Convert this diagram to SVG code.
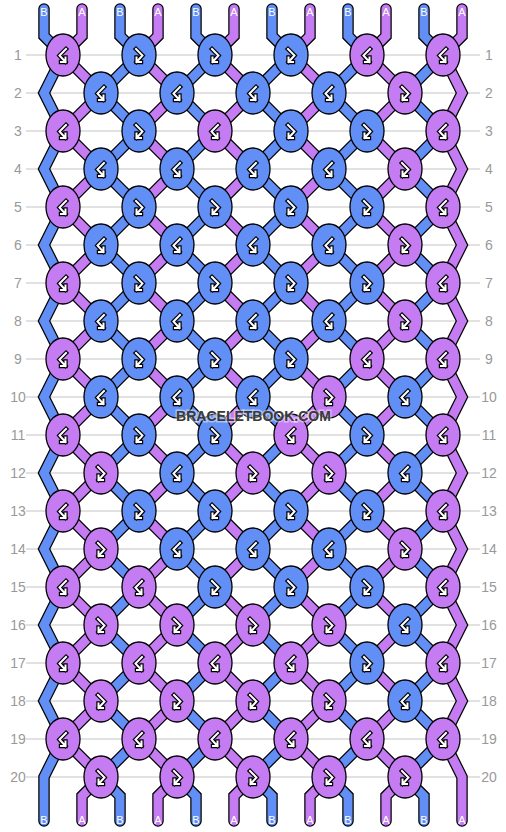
<svg xmlns="http://www.w3.org/2000/svg" xmlns:xlink="http://www.w3.org/1999/xlink" width="506" height="832" viewBox="0 0 506 832">
<style>
.grid line{stroke:#c4c4c4;stroke-width:1}
.num{font-family:"Liberation Sans",Arial,sans-serif;font-size:14px;fill:#999;text-anchor:middle}
.lab{font-family:"Liberation Sans",Arial,sans-serif;font-size:11px;fill:#fff;text-anchor:middle}
.so{fill:none;stroke:#000;stroke-width:11.5;stroke-linecap:round;stroke-linejoin:miter}
.sA{fill:none;stroke:#C57CF3;stroke-width:9;stroke-linecap:round;stroke-linejoin:miter}
.sB{fill:none;stroke:#628FF5;stroke-width:9;stroke-linecap:round;stroke-linejoin:miter}
.k ellipse{stroke:#000;stroke-width:1.3}
.p ellipse{fill:#C57CF3}
.b ellipse{fill:#628FF5}
.go{fill:none;stroke:#000;stroke-width:4.4;stroke-linejoin:miter;stroke-linecap:square}
.gi{fill:none;stroke:#fff;stroke-width:2;stroke-linejoin:miter;stroke-linecap:square}
.wm{font-family:"Liberation Sans",Arial,sans-serif;font-size:14px;font-weight:bold;fill:#3a3a3a;text-anchor:middle;stroke:#fff;stroke-opacity:0.45;stroke-width:3;paint-order:stroke}
</style>
<defs>
<path id="sa" d="M0,9V36l-19,19l38,38l-38,38l38,38l-38,38l38,38l-38,38l38,38l-38,38l38,38l-38,38l38,38l-38,38l38,38l-38,38l38,38l-38,38l38,38l-38,38l38,38l-19,19V821"/>
<path id="sb" d="M0,9V36l19,19l-38,38l38,38l-38,38l38,38l-38,38l38,38l-38,38l38,38l-38,38l38,38l-38,38l38,38l-38,38l38,38l-38,38l38,38l-38,38l38,38l-38,38l19,19V821"/>
<path id="s0" d="M44,9V36l19,19l-19,38l19,38l-19,38l19,38l-19,38l19,38l-19,38l19,38l-19,38l19,38l-19,38l19,38l-19,38l19,38l-19,38l19,38l-19,38l19,38l-19,38V821"/>
<path id="s11" d="M462,9V36l-19,19l19,38l-19,38l19,38l-19,38l19,38l-19,38l19,38l-19,38l19,38l-19,38l19,38l-19,38l19,38l-19,38l19,38l-19,38l19,38l-19,38l19,38V821"/>
<g id="L"><path class="go" d="M3,-6L-3.5,0.5L2.5,7M-2,7H2.5V2.5"/><path class="gi" d="M3,-6L-3.5,0.5L2.5,7M-2,7H2.5V2.5"/></g>
<g id="R"><path class="go" d="M-3,-6L3.5,0.5L-2.5,7M2,7H-2.5V2.5"/><path class="gi" d="M-3,-6L3.5,0.5L-2.5,7M2,7H-2.5V2.5"/></g>
</defs>
<rect width="506" height="832" fill="#fff"/>
<g class="grid">
<line x1="26" y1="55" x2="480" y2="55"/><line x1="26" y1="93" x2="480" y2="93"/><line x1="26" y1="131" x2="480" y2="131"/><line x1="26" y1="169" x2="480" y2="169"/><line x1="26" y1="207" x2="480" y2="207"/><line x1="26" y1="245" x2="480" y2="245"/><line x1="26" y1="283" x2="480" y2="283"/><line x1="26" y1="321" x2="480" y2="321"/><line x1="26" y1="359" x2="480" y2="359"/><line x1="26" y1="397" x2="480" y2="397"/><line x1="26" y1="435" x2="480" y2="435"/><line x1="26" y1="473" x2="480" y2="473"/><line x1="26" y1="511" x2="480" y2="511"/><line x1="26" y1="549" x2="480" y2="549"/><line x1="26" y1="587" x2="480" y2="587"/><line x1="26" y1="625" x2="480" y2="625"/><line x1="26" y1="663" x2="480" y2="663"/><line x1="26" y1="701" x2="480" y2="701"/><line x1="26" y1="739" x2="480" y2="739"/><line x1="26" y1="777" x2="480" y2="777"/>
</g>
<g class="num">
<text x="18" y="60">1</text><text x="18" y="98">2</text><text x="18" y="136">3</text><text x="18" y="174">4</text><text x="18" y="212">5</text><text x="18" y="250">6</text><text x="18" y="288">7</text><text x="18" y="326">8</text><text x="18" y="364">9</text><text x="18" y="402">10</text><text x="18" y="440">11</text><text x="18" y="478">12</text><text x="18" y="516">13</text><text x="18" y="554">14</text><text x="18" y="592">15</text><text x="18" y="630">16</text><text x="18" y="668">17</text><text x="18" y="706">18</text><text x="18" y="744">19</text><text x="18" y="782">20</text>
<text x="489" y="60">1</text><text x="489" y="98">2</text><text x="489" y="136">3</text><text x="489" y="174">4</text><text x="489" y="212">5</text><text x="489" y="250">6</text><text x="489" y="288">7</text><text x="489" y="326">8</text><text x="489" y="364">9</text><text x="489" y="402">10</text><text x="489" y="440">11</text><text x="489" y="478">12</text><text x="489" y="516">13</text><text x="489" y="554">14</text><text x="489" y="592">15</text><text x="489" y="630">16</text><text x="489" y="668">17</text><text x="489" y="706">18</text><text x="489" y="744">19</text><text x="489" y="782">20</text>
</g>
<g id="connectors">
<g id="str0"><use href="#s0" class="so"/><use href="#s0" class="sB"/></g>
<g id="str1"><use href="#sa" x="82" class="so"/><use href="#sa" x="82" class="sA"/></g>
<g id="str2"><use href="#sb" x="120" class="so"/><use href="#sb" x="120" class="sB"/></g>
<g id="str3"><use href="#sa" x="158" class="so"/><use href="#sa" x="158" class="sA"/></g>
<g id="str4"><use href="#sb" x="196" class="so"/><use href="#sb" x="196" class="sB"/></g>
<g id="str5"><use href="#sa" x="234" class="so"/><use href="#sa" x="234" class="sA"/></g>
<g id="str6"><use href="#sb" x="272" class="so"/><use href="#sb" x="272" class="sB"/></g>
<g id="str7"><use href="#sa" x="310" class="so"/><use href="#sa" x="310" class="sA"/></g>
<g id="str8"><use href="#sb" x="348" class="so"/><use href="#sb" x="348" class="sB"/></g>
<g id="str9"><use href="#sa" x="386" class="so"/><use href="#sa" x="386" class="sA"/></g>
<g id="str10"><use href="#sb" x="424" class="so"/><use href="#sb" x="424" class="sB"/></g>
<g id="str11"><use href="#s11" class="so"/><use href="#s11" class="sA"/></g>
</g>
<g class="lab">
<text x="44" y="16">B</text><text x="82" y="16">A</text><text x="120" y="16">B</text><text x="158" y="16">A</text><text x="196" y="16">B</text><text x="234" y="16">A</text><text x="272" y="16">B</text><text x="310" y="16">A</text><text x="348" y="16">B</text><text x="386" y="16">A</text><text x="424" y="16">B</text><text x="462" y="16">A</text>
<text x="44" y="824">B</text><text x="82" y="824">A</text><text x="120" y="824">B</text><text x="158" y="824">A</text><text x="196" y="824">B</text><text x="234" y="824">A</text><text x="272" y="824">B</text><text x="310" y="824">A</text><text x="348" y="824">B</text><text x="386" y="824">A</text><text x="424" y="824">B</text><text x="462" y="824">A</text>
</g>
<g id="knots">
<g id="k1-1" class="k p"><ellipse cx="63" cy="55" rx="17" ry="21"/><use href="#L" x="63" y="55"/></g>
<g id="k1-2" class="k b"><ellipse cx="139" cy="55" rx="17" ry="21"/><use href="#R" x="139" y="55"/></g>
<g id="k1-3" class="k b"><ellipse cx="215" cy="55" rx="17" ry="21"/><use href="#R" x="215" y="55"/></g>
<g id="k1-4" class="k b"><ellipse cx="291" cy="55" rx="17" ry="21"/><use href="#R" x="291" y="55"/></g>
<g id="k1-5" class="k p"><ellipse cx="367" cy="55" rx="17" ry="21"/><use href="#L" x="367" y="55"/></g>
<g id="k1-6" class="k p"><ellipse cx="443" cy="55" rx="17" ry="21"/><use href="#L" x="443" y="55"/></g>
<g id="k2-1" class="k b"><ellipse cx="101" cy="93" rx="17" ry="21"/><use href="#L" x="101" y="93"/></g>
<g id="k2-2" class="k b"><ellipse cx="177" cy="93" rx="17" ry="21"/><use href="#L" x="177" y="93"/></g>
<g id="k2-3" class="k b"><ellipse cx="253" cy="93" rx="17" ry="21"/><use href="#L" x="253" y="93"/></g>
<g id="k2-4" class="k b"><ellipse cx="329" cy="93" rx="17" ry="21"/><use href="#L" x="329" y="93"/></g>
<g id="k2-5" class="k p"><ellipse cx="405" cy="93" rx="17" ry="21"/><use href="#R" x="405" y="93"/></g>
<g id="k3-1" class="k p"><ellipse cx="63" cy="131" rx="17" ry="21"/><use href="#L" x="63" y="131"/></g>
<g id="k3-2" class="k b"><ellipse cx="139" cy="131" rx="17" ry="21"/><use href="#R" x="139" y="131"/></g>
<g id="k3-3" class="k p"><ellipse cx="215" cy="131" rx="17" ry="21"/><use href="#L" x="215" y="131"/></g>
<g id="k3-4" class="k b"><ellipse cx="291" cy="131" rx="17" ry="21"/><use href="#R" x="291" y="131"/></g>
<g id="k3-5" class="k b"><ellipse cx="367" cy="131" rx="17" ry="21"/><use href="#R" x="367" y="131"/></g>
<g id="k3-6" class="k p"><ellipse cx="443" cy="131" rx="17" ry="21"/><use href="#L" x="443" y="131"/></g>
<g id="k4-1" class="k b"><ellipse cx="101" cy="169" rx="17" ry="21"/><use href="#L" x="101" y="169"/></g>
<g id="k4-2" class="k b"><ellipse cx="177" cy="169" rx="17" ry="21"/><use href="#L" x="177" y="169"/></g>
<g id="k4-3" class="k b"><ellipse cx="253" cy="169" rx="17" ry="21"/><use href="#L" x="253" y="169"/></g>
<g id="k4-4" class="k b"><ellipse cx="329" cy="169" rx="17" ry="21"/><use href="#L" x="329" y="169"/></g>
<g id="k4-5" class="k p"><ellipse cx="405" cy="169" rx="17" ry="21"/><use href="#R" x="405" y="169"/></g>
<g id="k5-1" class="k p"><ellipse cx="63" cy="207" rx="17" ry="21"/><use href="#L" x="63" y="207"/></g>
<g id="k5-2" class="k b"><ellipse cx="139" cy="207" rx="17" ry="21"/><use href="#R" x="139" y="207"/></g>
<g id="k5-3" class="k b"><ellipse cx="215" cy="207" rx="17" ry="21"/><use href="#R" x="215" y="207"/></g>
<g id="k5-4" class="k b"><ellipse cx="291" cy="207" rx="17" ry="21"/><use href="#R" x="291" y="207"/></g>
<g id="k5-5" class="k b"><ellipse cx="367" cy="207" rx="17" ry="21"/><use href="#R" x="367" y="207"/></g>
<g id="k5-6" class="k p"><ellipse cx="443" cy="207" rx="17" ry="21"/><use href="#L" x="443" y="207"/></g>
<g id="k6-1" class="k b"><ellipse cx="101" cy="245" rx="17" ry="21"/><use href="#L" x="101" y="245"/></g>
<g id="k6-2" class="k b"><ellipse cx="177" cy="245" rx="17" ry="21"/><use href="#L" x="177" y="245"/></g>
<g id="k6-3" class="k b"><ellipse cx="253" cy="245" rx="17" ry="21"/><use href="#L" x="253" y="245"/></g>
<g id="k6-4" class="k b"><ellipse cx="329" cy="245" rx="17" ry="21"/><use href="#L" x="329" y="245"/></g>
<g id="k6-5" class="k p"><ellipse cx="405" cy="245" rx="17" ry="21"/><use href="#R" x="405" y="245"/></g>
<g id="k7-1" class="k p"><ellipse cx="63" cy="283" rx="17" ry="21"/><use href="#L" x="63" y="283"/></g>
<g id="k7-2" class="k b"><ellipse cx="139" cy="283" rx="17" ry="21"/><use href="#R" x="139" y="283"/></g>
<g id="k7-3" class="k b"><ellipse cx="215" cy="283" rx="17" ry="21"/><use href="#R" x="215" y="283"/></g>
<g id="k7-4" class="k b"><ellipse cx="291" cy="283" rx="17" ry="21"/><use href="#R" x="291" y="283"/></g>
<g id="k7-5" class="k b"><ellipse cx="367" cy="283" rx="17" ry="21"/><use href="#R" x="367" y="283"/></g>
<g id="k7-6" class="k p"><ellipse cx="443" cy="283" rx="17" ry="21"/><use href="#L" x="443" y="283"/></g>
<g id="k8-1" class="k b"><ellipse cx="101" cy="321" rx="17" ry="21"/><use href="#L" x="101" y="321"/></g>
<g id="k8-2" class="k b"><ellipse cx="177" cy="321" rx="17" ry="21"/><use href="#L" x="177" y="321"/></g>
<g id="k8-3" class="k b"><ellipse cx="253" cy="321" rx="17" ry="21"/><use href="#L" x="253" y="321"/></g>
<g id="k8-4" class="k b"><ellipse cx="329" cy="321" rx="17" ry="21"/><use href="#L" x="329" y="321"/></g>
<g id="k8-5" class="k p"><ellipse cx="405" cy="321" rx="17" ry="21"/><use href="#R" x="405" y="321"/></g>
<g id="k9-1" class="k p"><ellipse cx="63" cy="359" rx="17" ry="21"/><use href="#L" x="63" y="359"/></g>
<g id="k9-2" class="k b"><ellipse cx="139" cy="359" rx="17" ry="21"/><use href="#R" x="139" y="359"/></g>
<g id="k9-3" class="k b"><ellipse cx="215" cy="359" rx="17" ry="21"/><use href="#R" x="215" y="359"/></g>
<g id="k9-4" class="k b"><ellipse cx="291" cy="359" rx="17" ry="21"/><use href="#R" x="291" y="359"/></g>
<g id="k9-5" class="k p"><ellipse cx="367" cy="359" rx="17" ry="21"/><use href="#L" x="367" y="359"/></g>
<g id="k9-6" class="k p"><ellipse cx="443" cy="359" rx="17" ry="21"/><use href="#L" x="443" y="359"/></g>
<g id="k10-1" class="k b"><ellipse cx="101" cy="397" rx="17" ry="21"/><use href="#L" x="101" y="397"/></g>
<g id="k10-2" class="k b"><ellipse cx="177" cy="397" rx="17" ry="21"/><use href="#L" x="177" y="397"/></g>
<g id="k10-3" class="k b"><ellipse cx="253" cy="397" rx="17" ry="21"/><use href="#L" x="253" y="397"/></g>
<g id="k10-4" class="k p"><ellipse cx="329" cy="397" rx="17" ry="21"/><use href="#R" x="329" y="397"/></g>
<g id="k10-5" class="k b"><ellipse cx="405" cy="397" rx="17" ry="21"/><use href="#L" x="405" y="397"/></g>
<g id="k11-1" class="k p"><ellipse cx="63" cy="435" rx="17" ry="21"/><use href="#L" x="63" y="435"/></g>
<g id="k11-2" class="k b"><ellipse cx="139" cy="435" rx="17" ry="21"/><use href="#R" x="139" y="435"/></g>
<g id="k11-3" class="k b"><ellipse cx="215" cy="435" rx="17" ry="21"/><use href="#R" x="215" y="435"/></g>
<g id="k11-4" class="k p"><ellipse cx="291" cy="435" rx="17" ry="21"/><use href="#L" x="291" y="435"/></g>
<g id="k11-5" class="k b"><ellipse cx="367" cy="435" rx="17" ry="21"/><use href="#R" x="367" y="435"/></g>
<g id="k11-6" class="k p"><ellipse cx="443" cy="435" rx="17" ry="21"/><use href="#L" x="443" y="435"/></g>
<g id="k12-1" class="k p"><ellipse cx="101" cy="473" rx="17" ry="21"/><use href="#R" x="101" y="473"/></g>
<g id="k12-2" class="k b"><ellipse cx="177" cy="473" rx="17" ry="21"/><use href="#L" x="177" y="473"/></g>
<g id="k12-3" class="k p"><ellipse cx="253" cy="473" rx="17" ry="21"/><use href="#R" x="253" y="473"/></g>
<g id="k12-4" class="k p"><ellipse cx="329" cy="473" rx="17" ry="21"/><use href="#R" x="329" y="473"/></g>
<g id="k12-5" class="k b"><ellipse cx="405" cy="473" rx="17" ry="21"/><use href="#L" x="405" y="473"/></g>
<g id="k13-1" class="k p"><ellipse cx="63" cy="511" rx="17" ry="21"/><use href="#L" x="63" y="511"/></g>
<g id="k13-2" class="k b"><ellipse cx="139" cy="511" rx="17" ry="21"/><use href="#R" x="139" y="511"/></g>
<g id="k13-3" class="k b"><ellipse cx="215" cy="511" rx="17" ry="21"/><use href="#R" x="215" y="511"/></g>
<g id="k13-4" class="k b"><ellipse cx="291" cy="511" rx="17" ry="21"/><use href="#R" x="291" y="511"/></g>
<g id="k13-5" class="k b"><ellipse cx="367" cy="511" rx="17" ry="21"/><use href="#R" x="367" y="511"/></g>
<g id="k13-6" class="k p"><ellipse cx="443" cy="511" rx="17" ry="21"/><use href="#L" x="443" y="511"/></g>
<g id="k14-1" class="k p"><ellipse cx="101" cy="549" rx="17" ry="21"/><use href="#R" x="101" y="549"/></g>
<g id="k14-2" class="k b"><ellipse cx="177" cy="549" rx="17" ry="21"/><use href="#L" x="177" y="549"/></g>
<g id="k14-3" class="k b"><ellipse cx="253" cy="549" rx="17" ry="21"/><use href="#L" x="253" y="549"/></g>
<g id="k14-4" class="k b"><ellipse cx="329" cy="549" rx="17" ry="21"/><use href="#L" x="329" y="549"/></g>
<g id="k14-5" class="k p"><ellipse cx="405" cy="549" rx="17" ry="21"/><use href="#R" x="405" y="549"/></g>
<g id="k15-1" class="k p"><ellipse cx="63" cy="587" rx="17" ry="21"/><use href="#L" x="63" y="587"/></g>
<g id="k15-2" class="k p"><ellipse cx="139" cy="587" rx="17" ry="21"/><use href="#L" x="139" y="587"/></g>
<g id="k15-3" class="k b"><ellipse cx="215" cy="587" rx="17" ry="21"/><use href="#R" x="215" y="587"/></g>
<g id="k15-4" class="k b"><ellipse cx="291" cy="587" rx="17" ry="21"/><use href="#R" x="291" y="587"/></g>
<g id="k15-5" class="k b"><ellipse cx="367" cy="587" rx="17" ry="21"/><use href="#R" x="367" y="587"/></g>
<g id="k15-6" class="k p"><ellipse cx="443" cy="587" rx="17" ry="21"/><use href="#L" x="443" y="587"/></g>
<g id="k16-1" class="k p"><ellipse cx="101" cy="625" rx="17" ry="21"/><use href="#R" x="101" y="625"/></g>
<g id="k16-2" class="k p"><ellipse cx="177" cy="625" rx="17" ry="21"/><use href="#R" x="177" y="625"/></g>
<g id="k16-3" class="k p"><ellipse cx="253" cy="625" rx="17" ry="21"/><use href="#R" x="253" y="625"/></g>
<g id="k16-4" class="k p"><ellipse cx="329" cy="625" rx="17" ry="21"/><use href="#R" x="329" y="625"/></g>
<g id="k16-5" class="k b"><ellipse cx="405" cy="625" rx="17" ry="21"/><use href="#L" x="405" y="625"/></g>
<g id="k17-1" class="k p"><ellipse cx="63" cy="663" rx="17" ry="21"/><use href="#L" x="63" y="663"/></g>
<g id="k17-2" class="k p"><ellipse cx="139" cy="663" rx="17" ry="21"/><use href="#L" x="139" y="663"/></g>
<g id="k17-3" class="k p"><ellipse cx="215" cy="663" rx="17" ry="21"/><use href="#L" x="215" y="663"/></g>
<g id="k17-4" class="k p"><ellipse cx="291" cy="663" rx="17" ry="21"/><use href="#L" x="291" y="663"/></g>
<g id="k17-5" class="k b"><ellipse cx="367" cy="663" rx="17" ry="21"/><use href="#R" x="367" y="663"/></g>
<g id="k17-6" class="k p"><ellipse cx="443" cy="663" rx="17" ry="21"/><use href="#L" x="443" y="663"/></g>
<g id="k18-1" class="k p"><ellipse cx="101" cy="701" rx="17" ry="21"/><use href="#R" x="101" y="701"/></g>
<g id="k18-2" class="k p"><ellipse cx="177" cy="701" rx="17" ry="21"/><use href="#R" x="177" y="701"/></g>
<g id="k18-3" class="k p"><ellipse cx="253" cy="701" rx="17" ry="21"/><use href="#R" x="253" y="701"/></g>
<g id="k18-4" class="k p"><ellipse cx="329" cy="701" rx="17" ry="21"/><use href="#R" x="329" y="701"/></g>
<g id="k18-5" class="k b"><ellipse cx="405" cy="701" rx="17" ry="21"/><use href="#L" x="405" y="701"/></g>
<g id="k19-1" class="k p"><ellipse cx="63" cy="739" rx="17" ry="21"/><use href="#L" x="63" y="739"/></g>
<g id="k19-2" class="k p"><ellipse cx="139" cy="739" rx="17" ry="21"/><use href="#L" x="139" y="739"/></g>
<g id="k19-3" class="k p"><ellipse cx="215" cy="739" rx="17" ry="21"/><use href="#L" x="215" y="739"/></g>
<g id="k19-4" class="k p"><ellipse cx="291" cy="739" rx="17" ry="21"/><use href="#L" x="291" y="739"/></g>
<g id="k19-5" class="k p"><ellipse cx="367" cy="739" rx="17" ry="21"/><use href="#L" x="367" y="739"/></g>
<g id="k19-6" class="k p"><ellipse cx="443" cy="739" rx="17" ry="21"/><use href="#L" x="443" y="739"/></g>
<g id="k20-1" class="k p"><ellipse cx="101" cy="777" rx="17" ry="21"/><use href="#R" x="101" y="777"/></g>
<g id="k20-2" class="k p"><ellipse cx="177" cy="777" rx="17" ry="21"/><use href="#R" x="177" y="777"/></g>
<g id="k20-3" class="k p"><ellipse cx="253" cy="777" rx="17" ry="21"/><use href="#R" x="253" y="777"/></g>
<g id="k20-4" class="k p"><ellipse cx="329" cy="777" rx="17" ry="21"/><use href="#R" x="329" y="777"/></g>
<g id="k20-5" class="k p"><ellipse cx="405" cy="777" rx="17" ry="21"/><use href="#R" x="405" y="777"/></g>
</g>
<text class="wm" x="253.5" y="421">BRACELETBOOK.COM</text>
</svg>
